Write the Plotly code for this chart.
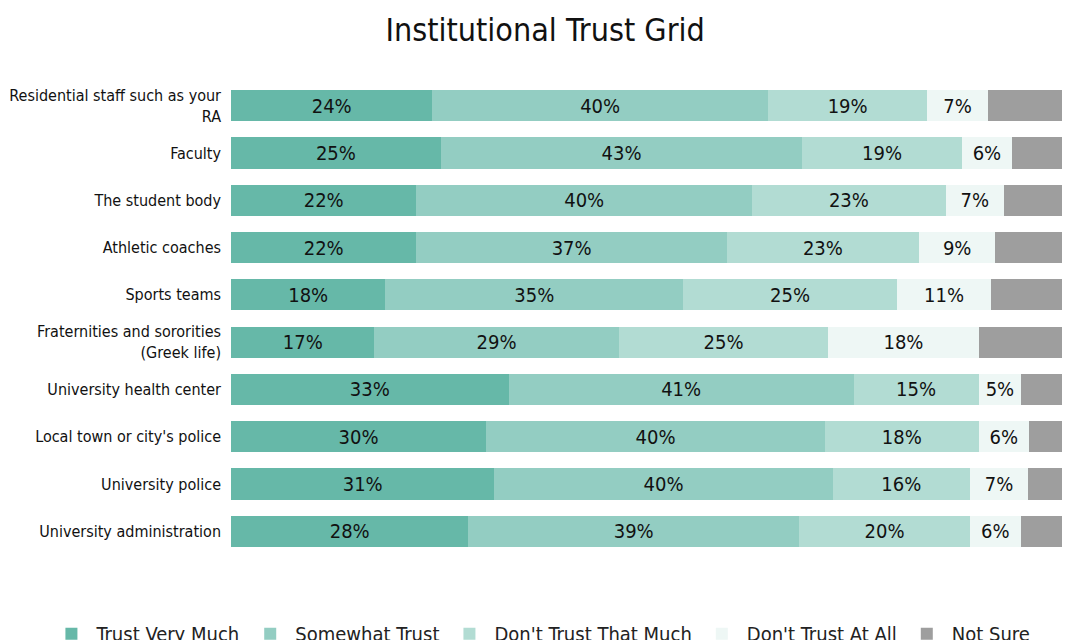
import plotly.graph_objects as go

categories = [
    "Residential staff such as your<br>RA",
    "Faculty",
    "The student body",
    "Athletic coaches",
    "Sports teams",
    "Fraternities and sororities<br>(Greek life)",
    "University health center",
    "Local town or city's police",
    "University police",
    "University administration",
]

series_names = ["Trust Very Much", "Somewhat Trust", "Don't Trust That Much",
                "Don't Trust At All", "Not Sure"]

trust_very_much = [24.0, 25.0, 22.1, 22.1, 18.4, 17.1, 33.1, 30.4, 31.4, 28.3]
somewhat_trust = [40.0, 43.1, 40.0, 37.0, 35.49, 29.1, 41.1, 40.4, 40.3, 39.4]
dont_trust_that_much = [19.0, 19.0, 23.1, 22.9, 25.49, 25.0, 14.9, 18.3, 16.4, 20.4]
dont_trust_at_all = [7.2, 6.0, 6.9, 9.1, 11.2, 17.9, 5.1, 6.0, 6.9, 6.0]
not_sure = [9.8, 6.9, 7.9, 8.9, 9.4, 10.9, 5.8, 4.9, 5.0, 5.9]

colors = ["#66b8a8", "#93cdc2", "#b2dcd3", "#eef7f5", "#9e9e9e"]
series_values = [trust_very_much, somewhat_trust, dont_trust_that_much,
                 dont_trust_at_all, not_sure]

FONT = "DejaVu Sans Condensed"

fig = go.Figure()
for i, (name, vals, col) in enumerate(zip(series_names, series_values, colors)):
    show_text = i < 4
    fig.add_trace(go.Bar(
        y=categories,
        x=vals,
        name=name,
        orientation="h",
        marker=dict(color=col, line=dict(width=0)),
        text=[f"{round(v)}%" for v in vals] if show_text else None,
        textposition="inside" if show_text else "none",
        insidetextanchor="middle",
        textangle=0,
        textfont=dict(family=FONT, size=20, color="#111111"),
        hoverinfo="x+name",
    ))

fig.update_layout(
    barmode="stack",
    bargap=0.34,
    width=1070,
    height=640,
    paper_bgcolor="white",
    plot_bgcolor="white",
    margin=dict(l=223, r=8, t=74, b=93, autoexpand=False),
    font=dict(family=FONT, color="#111111"),
    title=dict(text="Institutional Trust Grid", x=0.502, xref="container",
               xanchor="center", y=1 - 22 / 640, yref="container",
               yanchor="middle", font=dict(family=FONT, size=32, color="#111111")),
    xaxis=dict(range=[0, 100], showticklabels=False, showgrid=False,
               zeroline=False, showline=False, fixedrange=True),
    yaxis=dict(autorange="reversed", showgrid=False, zeroline=False,
               showline=False, ticks="", ticklabelstandoff=9,
               tickfont=dict(family=FONT, size=16, color="#111111")),
    legend=dict(orientation="h", x=-0.22, xanchor="left",
                y=-0.125, yanchor="top", itemwidth=40,
                font=dict(family=FONT, size=20, color="#222222"),
                traceorder="normal"),
    uniformtext=dict(mode=False),
)

fig.write_html("out.html")
